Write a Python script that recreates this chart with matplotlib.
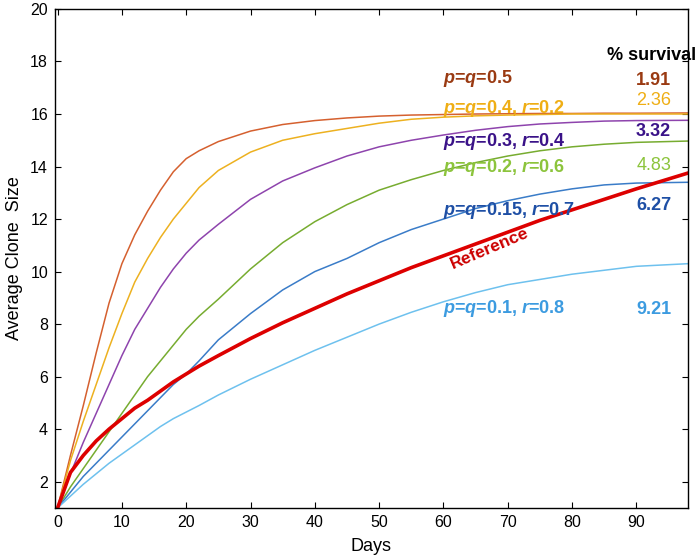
import matplotlib
matplotlib.use("Agg")
import matplotlib.pyplot as plt

plt.rcParams['font.family'] = ['Liberation Sans', 'DejaVu Sans']
plt.rcParams['mathtext.fontset'] = 'custom'
plt.rcParams['mathtext.rm'] = 'Liberation Sans:bold'
plt.rcParams['mathtext.bfit'] = 'Liberation Sans:italic:bold'
plt.rcParams['mathtext.it'] = 'Liberation Sans:italic:bold'

# values
days = [0, 2, 4, 6, 8, 10, 12, 14, 16, 18, 20, 22, 25, 30, 35, 40, 45, 50,
        55, 60, 65, 70, 75, 80, 85, 90, 98]
pq05 = [1.0, 3.0, 4.9, 6.9, 8.8, 10.3, 11.4, 12.3, 13.1, 13.8, 14.3, 14.6, 14.95,
        15.35, 15.6, 15.75, 15.85, 15.92, 15.96, 15.98, 16.0, 16.01, 16.02, 16.02,
        16.03, 16.03, 16.04]
pq04 = [1.0, 2.8, 4.3, 5.7, 7.1, 8.4, 9.6, 10.5, 11.3, 12.0, 12.6, 13.2, 13.85,
        14.55, 15.0, 15.25, 15.45, 15.65, 15.8, 15.88, 15.93, 15.96, 15.98, 16.0,
        16.0, 16.0, 16.0]
pq03 = [1.0, 2.3, 3.5, 4.6, 5.7, 6.8, 7.8, 8.6, 9.4, 10.1, 10.7, 11.2, 11.8,
        12.75, 13.45, 13.95, 14.4, 14.75, 15.0, 15.2, 15.38, 15.52, 15.62, 15.68,
        15.73, 15.75, 15.76]
pq02 = [1.0, 1.8, 2.5, 3.2, 3.9, 4.6, 5.3, 6.0, 6.6, 7.2, 7.8, 8.3, 8.95,
        10.1, 11.1, 11.9, 12.55, 13.1, 13.5, 13.85, 14.15, 14.4, 14.6, 14.75,
        14.85, 14.92, 14.97]
pq015 = [1.0, 1.6, 2.2, 2.7, 3.2, 3.7, 4.2, 4.7, 5.2, 5.7, 6.1, 6.6, 7.4,
         8.4, 9.3, 10.0, 10.5, 11.1, 11.6, 12.0, 12.4, 12.7, 12.95, 13.15,
         13.3, 13.37, 13.4]
pq01 = [1.0, 1.45, 1.9, 2.3, 2.7, 3.05, 3.4, 3.75, 4.1, 4.4, 4.65, 4.9, 5.3,
        5.9, 6.45, 7.0, 7.5, 8.0, 8.45, 8.85, 9.2, 9.5, 9.7, 9.9, 10.05, 10.2,
        10.3]
reference = [1.0, 2.35, 3.0, 3.55, 4.0, 4.4, 4.8, 5.1, 5.45, 5.8, 6.1, 6.4, 6.8,
             7.45, 8.05, 8.6, 9.15, 9.65, 10.15, 10.6, 11.05, 11.5, 11.95, 12.35,
             12.75, 13.15, 13.75]

curves = [pq05, pq04, pq03, pq02, pq015, pq01]
line_colors = ['#D5602F', '#EDB120', '#8E44AD', '#77AC30', '#3A7CC8', '#6EC1EE']
text_colors = ['#9A3A12', '#EFAE14', '#3A1288', '#8CC43C', '#1E4FA5', '#3C9BE0']
labels = [r'$\mathbfit{p}$=$\mathbfit{q}$=0.5',
          r'$\mathbfit{p}$=$\mathbfit{q}$=0.4, $\mathbfit{r}$=0.2',
          r'$\mathbfit{p}$=$\mathbfit{q}$=0.3, $\mathbfit{r}$=0.4',
          r'$\mathbfit{p}$=$\mathbfit{q}$=0.2, $\mathbfit{r}$=0.6',
          r'$\mathbfit{p}$=$\mathbfit{q}$=0.15, $\mathbfit{r}$=0.7',
          r'$\mathbfit{p}$=$\mathbfit{q}$=0.1, $\mathbfit{r}$=0.8']
label_y = [17.35, 16.22, 14.97, 13.96, 12.33, 8.58]
survival = ['1.91', '2.36', '3.32', '4.83', '6.27', '9.21']
survival_y = [17.26, 16.53, 15.32, 14.05, 12.52, 8.54]
survival_bold = [True, False, True, False, True, True]

fig = plt.figure(figsize=(7, 5.6), dpi=100)
ax = fig.add_axes([0.0786, 0.093, 0.904, 0.891])

for ys, c in zip(curves, line_colors):
    ax.plot(days, ys, color=c, lw=1.1)
ax.plot(days, reference, color='#DD0000', lw=2.6)

for lab, y, c in zip(labels, label_y, text_colors):
    ax.text(59.9, y, lab, color=c, fontsize=13, fontweight='bold',
            ha='left', va='center')
for s, y, c, b in zip(survival, survival_y, text_colors, survival_bold):
    ax.text(95.4, y, s, color=c, fontsize=13,
            fontweight='bold' if b else 'normal', ha='right', va='center')
ax.text(92.4, 18.22, '% survival', fontsize=13, fontweight='bold',
        ha='center', va='center', clip_on=False)
ax.text(67.2, 10.86, 'Reference', color='#CC0000', fontsize=12.5,
        fontweight='bold', rotation=23, ha='center', va='center',
        rotation_mode='anchor')

ax.set_xlim(-0.4, 98)
ax.set_ylim(1, 20)
ax.set_xticks(range(0, 100, 10))
ax.set_yticks(range(2, 21, 2))
ax.tick_params(direction='in', top=True, right=True, labelsize=11.5,
               length=4.5, pad=5)
for sp in ax.spines.values():
    sp.set_linewidth(1.0)
ax.set_xlabel('Days', fontsize=13, labelpad=6)
ax.set_ylabel('Average Clone  Size', fontsize=13, labelpad=5)

fig.savefig('out.png', dpi=100)
